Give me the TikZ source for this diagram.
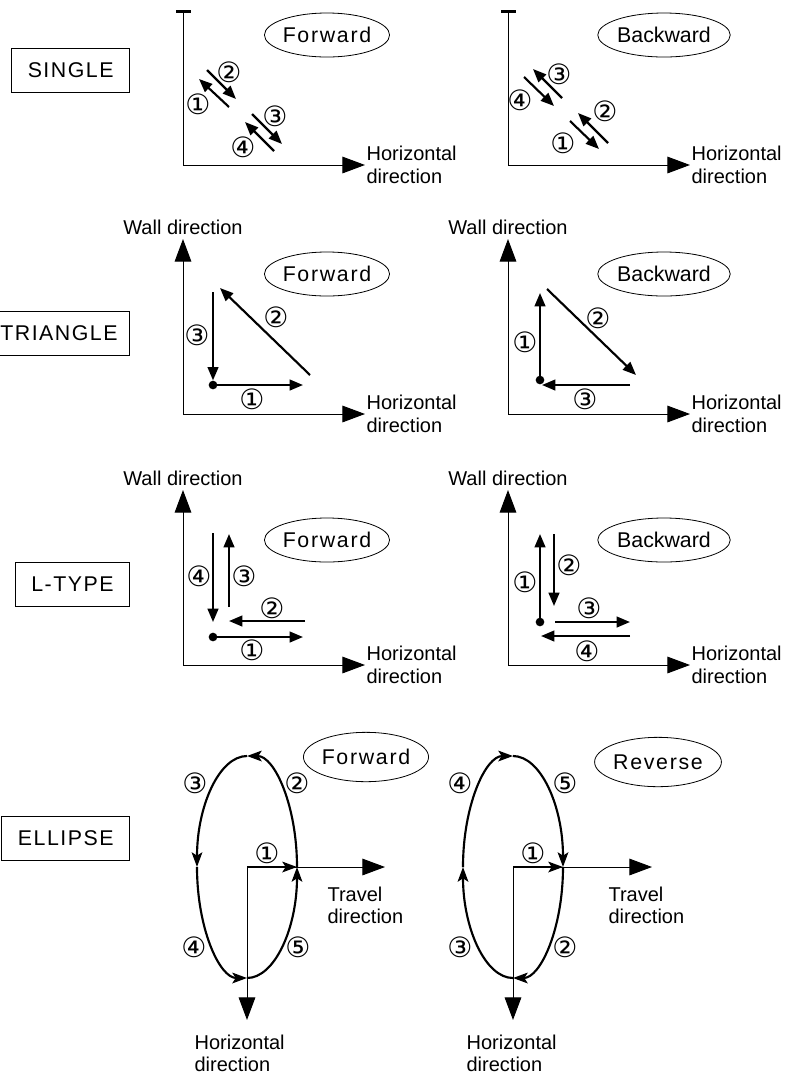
\documentclass[tikz,border=0pt]{standalone}
\usepackage{fontspec}
\setmainfont{Liberation Sans}
\newfontfamily\circfont{DejaVu Sans}
\usetikzlibrary{arrows.meta,shapes.geometric}

\begin{document}
\begin{tikzpicture}[x=0.75pt, y=-0.75pt,
    axtip/.tip={Triangle[length=17pt,width=12.5pt]},
    mvtip/.tip={Triangle[length=10pt,width=8pt]},
    lptip/.tip={Stealth[length=11pt,width=8pt,inset=2.5pt]},
    axis/.style={line width=0.75pt},
    mv/.style={line width=1.6pt, -mvtip},
    lp/.style={line width=1.6pt, -lptip},
    kind/.style={draw, line width=0.75pt, anchor=east, minimum height=33pt, inner xsep=12pt,
                 font=\fontsize{16}{18}\selectfont\addfontfeature{LetterSpace=7}},
    mode/.style={ellipse, draw, line width=0.6pt, inner sep=0pt, minimum width=88.5pt,
                 minimum height=33pt, font=\fontsize{16}{18}\selectfont},
    wide/.style={font=\fontsize{16}{18}\selectfont\addfontfeature{LetterSpace=8}},
    lbl/.style={font=\fontsize{15}{17}\selectfont, align=left, inner sep=1pt},
    num/.style={font=\circfont\fontsize{21}{21}\selectfont, inner sep=0pt},
    dot/.style={circle, fill, inner sep=0pt, minimum size=6.5pt}]
  \useasboundingbox (0,0) rectangle (791,1076);

  % pattern names
  \node[kind] (single) at (130,70) {SINGLE};
  \node[kind, inner xsep=9pt] (triangle) at (130,333) {TRIANGLE};
  \node[kind] (ltype) at (130,584) {L-TYPE};
  \node[kind] (ellipse) at (130,838) {ELLIPSE};

  % sense of travel
  \foreach \y/\r in {35/1,274/2,540/3} {
    \node[mode, wide] (fw\r) at (327,\y) {Forward};
    \node[mode] (bw\r) at (664,\y) {Backward};
  }
  \node[mode, wide, minimum height=37pt] (fw4) at (366,757) {Forward};
  \node[mode, wide, minimum height=37pt] (rv4) at (658,762) {Reverse};

  % axes
  \foreach \ox/\s in {183/l,508/r} {
    \fill (\ox-7.5,10) rectangle (\ox+7.5,13);
    \draw[axis, -axtip] (\ox,12) |- (\ox+182,165);
    \node[lbl, anchor=west] (hor1\s) at (\ox+182,165) {Horizontal\\direction};
    \foreach \oy/\r in {414/2,665/3} {
      \draw[axis, axtip-axtip] (\ox,\oy-175) |- (\ox+182,\oy);
      \node[lbl, anchor=base] (wall\r\s) at (\ox,\oy-180) {Wall direction};
      \node[lbl, anchor=west] (hor\r\s) at (\ox+182,\oy) {Horizontal\\direction};
    }
  }

  % SINGLE
  \draw[mv] (229,107) -- (199,79);  \draw[mv] (207,70) -- (236,99);
  \draw[mv] (252,114) -- (282,144); \draw[mv] (274,151) -- (245,122);
  \draw[mv] (562,98) -- (533,69);   \draw[mv] (524,77) -- (554,106);
  \draw[mv] (608,143) -- (578,113); \draw[mv] (570,121) -- (599,149);

  % TRIANGLE
  \node[dot] (st2l) at (213,385) {};
  \draw[mv] (st2l.center) -- (303,385);
  \draw[mv] (310,375) -- (220,288);
  \draw[mv] (213,292) -- (st2l.north);
  \node[dot] (st2r) at (540,380) {};
  \draw[mv] (st2r.center) -- (540,293);
  \draw[mv] (547,289) -- (636,375);
  \draw[mv] (630,385) -- (542,385);

  % L-TYPE
  \node[dot] (st3l) at (213,637) {};
  \draw[mv] (st3l.center) -- (303,637);
  \draw[mv] (305,621) -- (229,621);
  \draw[mv] (229,607) -- (229,534);
  \draw[mv] (213,533) -- (213,622);
  \node[dot] (st3r) at (540,622) {};
  \draw[mv] (st3r.center) -- (540,534);
  \draw[mv] (554,534) -- (554,606);
  \draw[mv] (555,622) -- (630,622);
  \draw[mv] (630,636) -- (541,636);

  % ELLIPSE
  \coordinate (cf) at (247,867);
  \coordinate (cr) at (513,867);
  \draw[axis, -axtip] (cf) -- (385,867);
  \draw[axis, -axtip] (cf) -- (247,1020);
  \draw[axis, -axtip] (cr) -- (652,867);
  \draw[axis, -axtip] (cr) -- (513,1020);
  \draw[lp] (cf) -- ++(50,0);
  \draw[lp] (cr) -- ++(50,0);
  \foreach \a in {0,-90,-180,-270}
    \draw[lp] ([shift={(\a:50 and 111)}]cf) arc[start angle=\a, delta angle=-90, x radius=50, y radius=111];
  \foreach \a in {0,90,180,270}
    \draw[lp] ([shift={(\a:50 and 111)}]cr) arc[start angle=\a, delta angle=90, x radius=50, y radius=111];
  \node[lbl, anchor=north west] (trvl) at (326,885) {Travel\\direction};
  \node[lbl, anchor=north west] (trvr) at (607,885) {Travel\\direction};
  \node[lbl, anchor=north west] (hor4l) at (193,1033) {Horizontal\\direction};
  \node[lbl, anchor=north west] (hor4r) at (465,1033) {Horizontal\\direction};

  % step numbers
  \foreach \t/\x/\y [count=\i] in {①/198/104, ②/229/72, ③/275/116, ④/243/147,
      ③/559/74, ④/520/100, ②/605/111, ①/563/143,
      ③/197/335, ②/276/317, ①/252/399, ①/525/342, ②/598/318, ③/585/399,
      ④/199/576, ③/244/576, ②/272/608, ①/252/650,
      ①/525/582, ②/569/565, ③/589/608, ④/587/651,
      ③/195/783, ②/297/783, ④/194/947, ⑤/298/947, ①/267/853,
      ④/460/783, ⑤/565/783, ①/533/853, ③/460/947, ②/565/947}
    \node[num] (n\i) at (\x,\y) {\t};
\end{tikzpicture}
\end{document}
